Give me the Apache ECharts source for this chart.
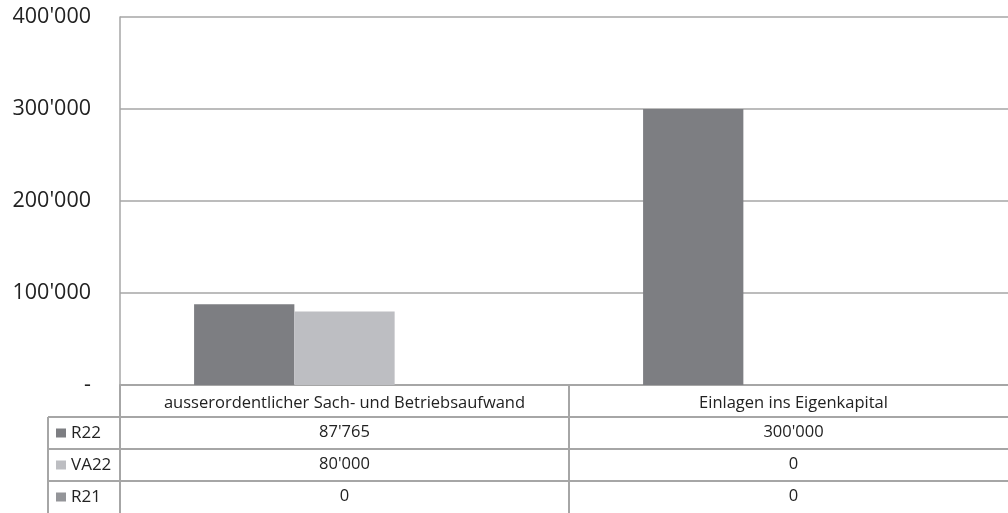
<!DOCTYPE html>
<html>
<head>
<meta charset="utf-8">
<script src="https://cdn.jsdelivr.net/npm/echarts@6/dist/echarts.min.js"></script>
<style>
  html, body { margin: 0; padding: 0; background: #fff; }
  #chart { width: 1008px; height: 513px; }
</style>
</head>
<body>
<div id="chart"></div>
<script>
// Categories and series values
const categories = ['ausserordentlicher Sach- und Betriebsaufwand', 'Einlagen ins Eigenkapital'];
const seriesNames = ['R22', 'VA22', 'R21'];
const r22 = [87765, 300000];
const va22 = [80000, 0];
const r21 = [0, 0];
const yTicks = [0, 100000, 200000, 300000, 400000];

const seriesData = [r22, va22, r21];
const colors = ['#7d7e82', '#bdbec2', '#949599'];
const lineColor = '#a6a6a6';
const textColor = '#222222';
const FONT = 'Open Sans';

// Layout of plot area and data table below it
const GRID_LEFT = 120;
const GRID_TOP = 17;
const ZERO_Y = 385;
const ROW_H = 32;
const TABLE_LEFT = 48;
const H = 513;

// Swiss thousands separator
function fmt(v) {
  return String(v).replace(/\B(?=(\d{3})+(?!\d))/g, "'");
}

// Header axis: category names, plus one axis per table row showing the values
const xAxes = [{
  type: 'category',
  data: categories,
  gridIndex: 0,
  position: 'bottom',
  axisLine: { show: true, lineStyle: { color: lineColor, width: 2 } },
  axisTick: { show: true, interval: 0, length: ROW_H, lineStyle: { color: lineColor, width: 2 } },
  axisLabel: { interval: 0, hideOverlap: false, color: textColor, fontFamily: FONT, fontSize: 16.5, lineHeight: 18, margin: 9 }
}];
seriesData.forEach((vals, r) => {
  xAxes.push({
    type: 'category',
    data: categories,
    gridIndex: 0,
    position: 'bottom',
    offset: ROW_H * (r + 1),
    axisLine: { show: true, lineStyle: { color: lineColor, width: 2 } },
    axisTick: { show: true, interval: 0, length: ROW_H, lineStyle: { color: lineColor, width: 2 } },
    axisLabel: {
      interval: 0, hideOverlap: false,
      color: textColor, fontFamily: FONT, fontSize: 16.5, lineHeight: 18, margin: 6,
      formatter: (v, i) => fmt(vals[i])
    }
  });
});

// Left column borders of the data table
const graphics = [];
for (let r = 1; r <= seriesNames.length; r++) {
  graphics.push({
    type: 'line', silent: true,
    shape: { x1: TABLE_LEFT, y1: ZERO_Y + ROW_H * r, x2: GRID_LEFT, y2: ZERO_Y + ROW_H * r },
    style: { stroke: lineColor, lineWidth: 2 }
  });
}
graphics.push({
  type: 'line', silent: true,
  shape: { x1: TABLE_LEFT, y1: ZERO_Y + ROW_H, x2: TABLE_LEFT, y2: H },
  style: { stroke: lineColor, lineWidth: 2 }
});

const chart = echarts.init(document.getElementById('chart'), null, { renderer: 'canvas' });
chart.setOption({
  animation: false,
  backgroundColor: '#ffffff',
  color: colors,
  grid: {
    left: GRID_LEFT, top: GRID_TOP, width: 898, bottom: H - ZERO_Y,
    outerBoundsMode: 'none'
  },
  legend: {
    orient: 'vertical',
    left: TABLE_LEFT + 3,
    top: ZERO_Y + ROW_H + 2,
    itemWidth: 10, itemHeight: 9,
    itemGap: 14,
    selectedMode: false,
    icon: 'rect',
    data: seriesNames,
    textStyle: { color: textColor, fontFamily: FONT, fontSize: 17, lineHeight: 18 }
  },
  xAxis: xAxes,
  yAxis: {
    type: 'value',
    min: yTicks[0],
    max: yTicks[yTicks.length - 1],
    interval: yTicks[1] - yTicks[0],
    axisLine: { show: true, lineStyle: { color: lineColor, width: 1.5 } },
    axisTick: { show: false },
    splitLine: { show: true, lineStyle: { color: lineColor, width: 1.5 } },
    axisLabel: {
      color: textColor, fontFamily: FONT, fontSize: 21.5, margin: 29,
      formatter: v => (v === 0 ? '-' : fmt(v))
    }
  },
  graphic: graphics,
  series: seriesNames.map((name, k) => ({
    name: name,
    type: 'bar',
    xAxisIndex: 0,
    data: seriesData[k],
    barGap: '0%',
    barCategoryGap: '33%',
    itemStyle: { color: colors[k] }
  }))
});
</script>
</body>
</html>
